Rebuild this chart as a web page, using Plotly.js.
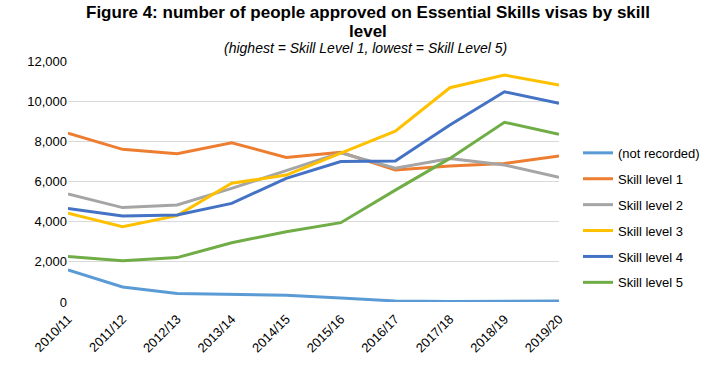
<!DOCTYPE html>
<html>
<head>
<meta charset="utf-8">
<script src="https://cdn.plot.ly/plotly-3.0.1.min.js"></script>
<style>html,body{margin:0;padding:0;background:#fff;}#chart{width:719px;height:366px;}</style>
</head>
<body>
<div id="chart"></div>
<script>
const years = ["2010/11","2011/12","2012/13","2013/14","2014/15","2015/16","2016/17","2017/18","2018/19","2019/20"];
const seriesNames = ["(not recorded)","Skill level 1","Skill level 2","Skill level 3","Skill level 4","Skill level 5"];
const notRecorded = [1600, 750, 420, 370, 340, 200, 50, 30, 50, 50];
const skill1 = [8400, 7600, 7380, 7930, 7200, 7450, 6570, 6770, 6900, 7270];
const skill2 = [5380, 4700, 4830, 5660, 6540, 7430, 6660, 7150, 6820, 6210];
const skill3 = [4420, 3750, 4300, 5910, 6320, 7400, 8510, 10670, 11300, 10800];
const skill4 = [4660, 4280, 4330, 4910, 6160, 6990, 7020, 8810, 10470, 9890];
const skill5 = [2260, 2060, 2210, 2950, 3500, 3950, 5570, 7150, 8950, 8350];
const colors = ["#5B9BD5","#ED7D31","#A5A5A5","#FFC000","#4472C4","#70AD47"];
const allSeries = [notRecorded, skill1, skill2, skill3, skill4, skill5];
const titleLines = ["Figure 4: number of people approved on Essential Skills visas by skill", "level"];
const subtitleText = "(highest = Skill Level 1, lowest = Skill Level 5)";

const traces = allSeries.map((vals, i) => ({
  type: "scatter",
  mode: "lines",
  x: years,
  y: vals,
  name: seriesNames[i],
  legendgroup: "g" + i,
  line: {color: colors[i], width: 3},
  hoverinfo: "skip"
}));

const fam = "Liberation Sans, Arial, sans-serif";
const layout = {
  width: 719,
  height: 366,
  margin: {l: 68, r: 160, t: 61, b: 64},
  paper_bgcolor: "#fff",
  plot_bgcolor: "#fff",
  font: {family: fam, color: "#000", size: 13},
  annotations: [
    {
      text: "<b>" + titleLines[0] + "</b>",
      xref: "paper", yref: "paper",
      x: 0.61, y: 1.203, xanchor: "center", yanchor: "middle",
      showarrow: false,
      font: {size: 17, family: fam, color: "#000"}
    },
    {
      text: "<b>" + titleLines[1] + "</b>",
      xref: "paper", yref: "paper",
      x: 0.61, y: 1.124, xanchor: "center", yanchor: "middle",
      showarrow: false,
      font: {size: 17, family: fam, color: "#000"}
    },
    {
      text: "<i>" + subtitleText + "</i>",
      xref: "paper", yref: "paper",
      x: 0.606, y: 1.054, xanchor: "center", yanchor: "middle",
      showarrow: false,
      font: {size: 14, family: fam, color: "#000"}
    }
  ],
  xaxis: {
    type: "category",
    range: [0, 9],
    showgrid: false,
    zeroline: false,
    showline: false,
    ticks: "",
    tickangle: -45,
    tickfont: {size: 13},
    ticklabelstandoff: 6,
    fixedrange: true
  },
  yaxis: {
    range: [0, 12000],
    tickvals: [0, 2000, 4000, 6000, 8000, 10000, 12000],
    ticktext: ["0", "2,000", "4,000", "6,000", "8,000", "10,000", "12,000"],
    showgrid: true,
    gridcolor: "#D9D9D9",
    gridwidth: 1,
    zeroline: false,
    showline: false,
    ticks: "",
    ticklen: 0,
    tickfont: {size: 13},
    fixedrange: true
  },
  showlegend: true,
  legend: {
    x: 578 / 719, xref: "container", xanchor: "left",
    y: 0.349, yanchor: "middle",
    traceorder: "grouped",
    tracegroupgap: 6,
    font: {size: 13},
    bgcolor: "rgba(0,0,0,0)",
    itemwidth: 30
  }
};

Plotly.newPlot("chart", traces, layout, {displayModeBar: false, staticPlot: true});
</script>
</body>
</html>
